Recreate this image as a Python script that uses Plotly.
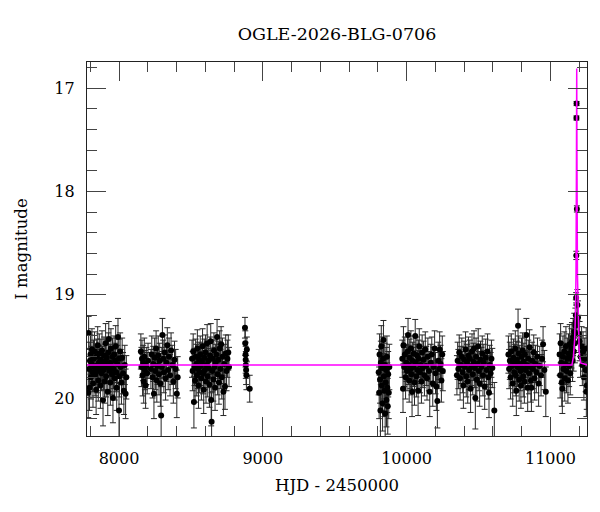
import plotly.graph_objects as go

# ---- data: (HJD-2450000, I mag, error), per observing season ----
season_2017 = [
    (7786,19.95,0.24),(7789,19.37,0.16),(7791,19.72,0.20),(7795,19.90,0.22),(7798,19.64,0.18),
    (7802,19.58,0.19),(7805,19.80,0.21),(7809,19.67,0.17),(7812,19.53,0.20),(7816,19.75,0.19),
    (7819,19.86,0.23),(7823,19.62,0.18),(7827,19.70,0.16),(7830,19.55,0.19),(7834,19.78,0.20),
    (7838,19.69,0.18),(7841,19.92,0.24),(7845,19.60,0.17),(7849,19.74,0.21),(7852,19.49,0.18),
    (7856,19.83,0.20),(7860,19.66,0.17),(7863,19.57,0.19),(7867,19.71,0.18),(7871,19.88,0.22),
    (7874,19.63,0.20),(7878,19.76,0.17),(7882,19.54,0.19),(7885,19.68,0.18),(7889,20.02,0.25),
    (7893,19.73,0.19),(7896,19.59,0.18),(7900,19.84,0.21),(7904,19.65,0.17),(7907,19.47,0.19),
    (7911,19.79,0.20),(7915,19.61,0.18),(7918,19.70,0.16),(7922,19.94,0.23),(7926,19.56,0.19),
    (7929,19.43,0.17),(7933,19.74,0.20),(7937,19.66,0.18),(7940,19.85,0.22),(7944,19.52,0.19),
    (7948,19.69,0.17),(7951,19.77,0.20),(7955,19.60,0.18),(7958,20.00,0.24),(7962,19.72,0.19),
    (7966,19.58,0.18),(7970,19.81,0.21),(7973,19.64,0.17),(7977,19.50,0.20),(7981,19.75,0.19),
    (7984,19.90,0.22),(7988,19.67,0.18),(7993,19.41,0.18),(8000,20.12,0.26),(7999,19.62,0.19),
    (8003,19.79,0.20),(8008,19.55,0.18),(8012,19.70,0.17),(8017,19.85,0.21),(8022,19.61,0.19),
    (8028,19.76,0.20),(8034,19.93,0.23),(8040,19.68,0.19),(8046,19.96,0.24),(8051,19.80,0.21),
]
season_2018 = [
    (8152,19.55,0.17),(8156,19.70,0.19),(8160,19.62,0.18),(8164,19.78,0.20),(8168,19.66,0.17),
    (8172,19.84,0.21),(8176,19.60,0.18),(8180,19.73,0.19),(8185,19.88,0.22),(8190,19.69,0.18),
    (8196,19.76,0.20),(8202,19.64,0.17),(8222,19.72,0.19),(8228,19.58,0.18),(8233,19.80,0.20),
    (8238,19.67,0.17),(8243,19.96,0.24),(8248,19.61,0.19),(8253,19.74,0.18),(8258,19.52,0.17),
    (8263,19.83,0.21),(8268,19.69,0.18),(8273,19.59,0.19),(8278,19.77,0.20),(8283,19.64,0.17),
    (8288,19.86,0.22),(8293,20.17,0.28),(8298,19.70,0.19),(8302,19.39,0.16),(8307,19.62,0.18),
    (8312,19.75,0.20),(8318,19.56,0.17),(8324,19.81,0.21),(8330,19.66,0.18),(8336,19.49,0.17),
    (8342,19.73,0.19),(8348,19.60,0.18),(8355,19.78,0.20),(8362,19.54,0.17),(8370,19.68,0.19),
    (8378,19.84,0.21),(8386,19.63,0.18),(8394,19.72,0.19),(8402,19.96,0.23),(8408,19.80,0.20),
]
season_2019 = [
    (8508,19.62,0.18),(8512,19.74,0.19),(8516,19.55,0.17),(8521,20.04,0.25),(8525,19.70,0.18),
    (8529,19.83,0.21),(8533,19.60,0.17),(8537,19.67,0.19),(8541,19.78,0.20),(8545,19.52,0.18),
    (8549,19.72,0.19),(8553,19.88,0.22),(8557,19.63,0.17),(8561,19.75,0.20),(8565,19.58,0.18),
    (8569,19.69,0.19),(8573,19.81,0.21),(8577,19.65,0.18),(8581,19.50,0.17),(8585,19.76,0.20),
    (8589,19.92,0.23),(8593,19.61,0.18),(8597,19.73,0.19),(8601,19.56,0.17),(8605,19.84,0.21),
    (8609,19.68,0.18),(8613,19.47,0.18),(8617,19.79,0.20),(8621,19.64,0.17),(8625,19.71,0.19),
    (8629,19.87,0.22),(8633,19.59,0.18),(8638,19.45,0.17),(8641,20.02,0.25),(8644,20.23,0.28),
    (8648,19.74,0.20),(8652,19.62,0.18),(8656,19.82,0.21),(8660,19.54,0.17),(8664,19.70,0.19),
    (8668,19.90,0.22),(8672,19.66,0.18),(8677,19.58,0.17),(8682,19.41,0.17),(8686,19.77,0.20),
    (8690,19.63,0.18),(8695,19.85,0.21),(8700,19.52,0.17),(8705,19.72,0.19),(8710,19.48,0.17),
    (8715,19.80,0.21),(8720,19.60,0.18),(8726,19.94,0.23),(8731,19.67,0.19),(8737,19.89,0.22),
    (8742,19.57,0.18),(8748,19.74,0.19),(8754,19.62,0.18),(8760,19.56,0.17),(8765,19.70,0.19),
]
season_2020 = [
    (8876,19.32,0.10),(8878,19.47,0.12),(8880,19.58,0.12),(8881,19.63,0.13),(8882,19.68,0.13),
    (8884,19.73,0.14),(8886,19.78,0.14),(8889,19.53,0.12),(8909,19.91,0.13),
]
season_2022 = [
    (9806,19.75,0.22),(9809,19.95,0.25),(9812,19.58,0.20),(9815,19.82,0.23),(9818,20.12,0.28),
    (9821,19.66,0.21),(9824,19.50,0.20),(9827,19.88,0.24),(9830,19.71,0.22),(9833,20.05,0.27),
    (9836,19.62,0.21),(9839,19.44,0.19),(9842,19.79,0.22),(9845,19.93,0.25),(9848,19.68,0.21),
    (9851,20.15,0.28),(9854,19.85,0.23),(9857,19.73,0.22),(9860,20.02,0.26),(9863,19.60,0.20),
    (9866,19.90,0.24),(9869,20.08,0.27),(9872,19.77,0.22),(9876,19.95,0.25),(9880,19.70,0.22),
]
season_2023 = [
    (9970,19.62,0.18),(9975,19.91,0.23),(9978,19.49,0.18),(9983,19.70,0.19),(9988,19.58,0.17),
    (9993,19.80,0.21),(9998,19.66,0.18),(10003,19.74,0.19),(10007,19.55,0.17),(10010,19.39,0.16),
    (10014,19.68,0.19),(10018,19.83,0.21),(10022,19.61,0.18),(10026,19.72,0.19),(10030,19.52,0.17),
    (10034,19.77,0.20),(10038,19.94,0.24),(10042,19.64,0.18),(10046,19.70,0.19),(10050,19.57,0.17),
    (10055,19.85,0.22),(10060,19.40,0.16),(10064,19.66,0.18),(10068,19.79,0.20),(10072,19.59,0.18),
    (10076,19.73,0.19),(10080,19.93,0.24),(10084,19.62,0.18),(10088,19.50,0.17),(10093,19.75,0.20),
    (10098,19.68,0.18),(10103,19.84,0.21),(10108,19.56,0.17),(10113,19.71,0.19),(10118,19.63,0.18),
    (10124,19.78,0.20),(10130,19.53,0.17),(10136,19.69,0.19),(10142,19.81,0.21),(10148,19.60,0.18),
    (10155,19.74,0.19),(10161,19.94,0.24),(10168,19.66,0.18),(10175,19.58,0.17),(10182,19.86,0.22),
    (10188,19.70,0.19),(10195,19.52,0.17),(10201,19.76,0.20),(10207,19.89,0.23),(10214,20.03,0.26),
    (10220,19.64,0.18),(10226,19.72,0.19),(10230,19.53,0.17),(10236,19.67,0.18),(10242,19.83,0.21),
    (10248,19.58,0.18),(10252,19.74,0.19),
]
season_2024 = [
    (10350,19.78,0.19),(10355,19.64,0.18),(10360,19.72,0.19),(10366,19.56,0.17),(10372,19.81,0.21),
    (10378,19.68,0.18),(10384,19.60,0.18),(10390,19.75,0.20),(10395,19.88,0.22),(10400,19.63,0.18),
    (10405,19.70,0.19),(10410,19.53,0.17),(10415,19.79,0.20),(10420,19.66,0.18),(10425,19.84,0.21),
    (10430,19.59,0.18),(10435,19.73,0.19),(10440,19.62,0.18),(10445,19.91,0.23),(10450,19.69,0.19),
    (10455,19.55,0.17),(10460,19.77,0.20),(10465,19.65,0.18),(10469,19.52,0.17),(10474,19.71,0.19),
    (10478,20.00,0.30),(10483,19.60,0.18),(10488,19.82,0.21),(10493,19.67,0.18),(10498,19.50,0.17),
    (10503,19.74,0.19),(10508,19.86,0.22),(10514,19.63,0.18),(10520,19.70,0.19),(10526,19.57,0.17),
    (10531,19.78,0.20),(10537,19.66,0.18),(10543,19.89,0.22),(10550,19.61,0.18),(10557,19.73,0.19),
    (10563,19.55,0.17),(10568,19.80,0.21),(10573,19.95,0.24),(10578,19.68,0.19),(10584,19.76,0.20),
    (10590,19.62,0.18),(10596,19.71,0.19),(10610,20.12,0.27),
]
season_2025 = [
    (10708,19.58,0.18),(10713,19.72,0.19),(10718,19.64,0.18),(10723,19.80,0.21),(10728,19.55,0.17),
    (10733,19.69,0.19),(10738,19.86,0.22),(10743,19.61,0.18),(10748,19.75,0.20),(10752,19.66,0.18),
    (10756,19.52,0.17),(10760,19.78,0.20),(10763,19.93,0.24),(10767,19.63,0.18),(10771,19.70,0.19),
    (10775,19.30,0.16),(10779,19.57,0.17),(10783,19.82,0.21),(10787,19.67,0.18),(10791,19.74,0.19),
    (10795,19.88,0.22),(10799,19.60,0.18),(10803,19.71,0.19),(10807,19.54,0.17),(10811,19.79,0.20),
    (10815,19.65,0.18),(10819,19.84,0.21),(10823,19.58,0.17),(10828,19.73,0.19),(10833,19.39,0.16),
    (10837,19.68,0.18),(10842,19.90,0.23),(10846,19.62,0.18),(10851,19.76,0.20),(10855,19.51,0.17),
    (10860,19.70,0.19),(10864,19.83,0.21),(10868,19.90,0.23),(10873,19.64,0.18),(10878,19.72,0.19),
    (10884,19.56,0.17),(10890,19.81,0.21),(10896,19.67,0.18),(10902,19.75,0.20),(10910,19.60,0.18),
    (10918,19.86,0.22),(10926,19.69,0.19),(10935,19.78,0.20),(10942,19.62,0.18),(10949,19.48,0.17),
    (10958,19.73,0.19),(10968,19.94,0.24),
]
season_2026 = [
    (11064,19.58,0.20),(11068,19.78,0.22),(11071,19.47,0.19),(11075,19.66,0.20),(11079,19.85,0.23),
    (11083,19.91,0.24),(11087,19.60,0.20),(11091,19.72,0.21),(11096,19.55,0.19),(11100,19.81,0.22),
    (11104,19.67,0.20),(11108,19.50,0.19),(11112,19.74,0.21),(11118,19.62,0.20),(11122,19.83,0.22),
    (11126,19.57,0.19),(11130,19.69,0.20),(11134,19.48,0.19),(11138,19.76,0.21),(11142,19.60,0.20),
    (11146,19.52,0.19),(11150,19.45,0.18),(11154,19.64,0.20),(11158,19.41,0.18),(11162,19.55,0.19),
    (11166,19.36,0.18),(11170,19.47,0.19),(11174,19.30,0.17),(11177,19.20,0.15),(11178,19.26,0.16),
    (11179,19.03,0.05),(11180,18.62,0.04),(11181,17.29,0.02),(11182,17.15,0.02),(11184,18.17,0.03),
    (11188,19.10,0.15),(11192,19.22,0.16),(11197,19.38,0.18),(11203,19.45,0.19),(11210,19.60,0.20),
    (11217,19.50,0.19),(11222,19.68,0.20),(11227,19.55,0.19),(11233,19.80,0.22),(11239,19.62,0.20),
    (11245,19.73,0.21),(11249,19.52,0.20),(11250,19.94,0.24),(11253,19.88,0.23),
]

# model light curve (magenta)
model_hjd = [7777, 11150, 11160, 11168, 11174, 11178, 11181, 11183, 11185, 11188, 11193, 11200, 11210, 11256]
model_mag = [19.68, 19.68, 19.60, 19.45, 19.20, 18.80, 17.80, 16.81, 17.80, 18.80, 19.30, 19.55, 19.66, 19.68]

title_text = "OGLE-2026-BLG-0706"
x_label = "HJD - 2450000"
y_label = "I magnitude"

# ---- build ----
seasons = [season_2017, season_2018, season_2019, season_2020, season_2022,
           season_2023, season_2024, season_2025, season_2026]
hjd, mag, err = [], [], []
for s in seasons:
    for t, m, e in s:
        hjd.append(t); mag.append(m); err.append(e)

FONT = "DejaVu Serif"

fig = go.Figure()
fig.add_trace(go.Scatter(
    x=hjd, y=mag, mode="markers",
    marker=dict(color="black", size=6, line=dict(width=0)),
    error_y=dict(type="data", array=err, visible=True, color="#262626", thickness=1, width=3),
    showlegend=False, hoverinfo="skip",
))
fig.add_trace(go.Scatter(
    x=model_hjd, y=model_mag, mode="lines",
    line=dict(color="#ff00ff", width=1.5),
    showlegend=False, hoverinfo="skip",
))

axis_common = dict(
    showgrid=False, zeroline=False, showline=True, linecolor="#222", linewidth=1.2,
    mirror="ticks", ticks="inside", ticklen=19, tickwidth=1, tickcolor="#444",
    tickfont=dict(family=FONT, size=16, color="black"), automargin=False,
    tickformat="d",
)
fig.update_xaxes(
    range=[7777.5, 11254.5], tick0=0, dtick=1000,
    minor=dict(dtick=200, ticks="inside", ticklen=9.5, tickwidth=1, tickcolor="#444"),
    title=dict(text=x_label, font=dict(family=FONT, size=16.5, color="black"), standoff=12),
    ticklabelstandoff=8,
    **axis_common,
)
fig.update_yaxes(
    range=[20.368, 16.748], tick0=0, dtick=1,
    minor=dict(dtick=0.2, ticks="inside", ticklen=9.5, tickwidth=1, tickcolor="#444"),
    title=dict(text=y_label, font=dict(family=FONT, size=16.5, color="black"), standoff=22),
    ticklabelstandoff=8,
    **axis_common,
)
fig.update_layout(
    width=600, height=512,
    margin=dict(l=79, r=21, t=54, b=84, autoexpand=False),
    paper_bgcolor="white", plot_bgcolor="white",
    title=dict(text=title_text, x=0.5, xref="paper", xanchor="center",
               y=1 - 26/512, yref="container", yanchor="middle",
               font=dict(family=FONT, size=17.5, color="black")),
)
fig.write_html("out.html")
